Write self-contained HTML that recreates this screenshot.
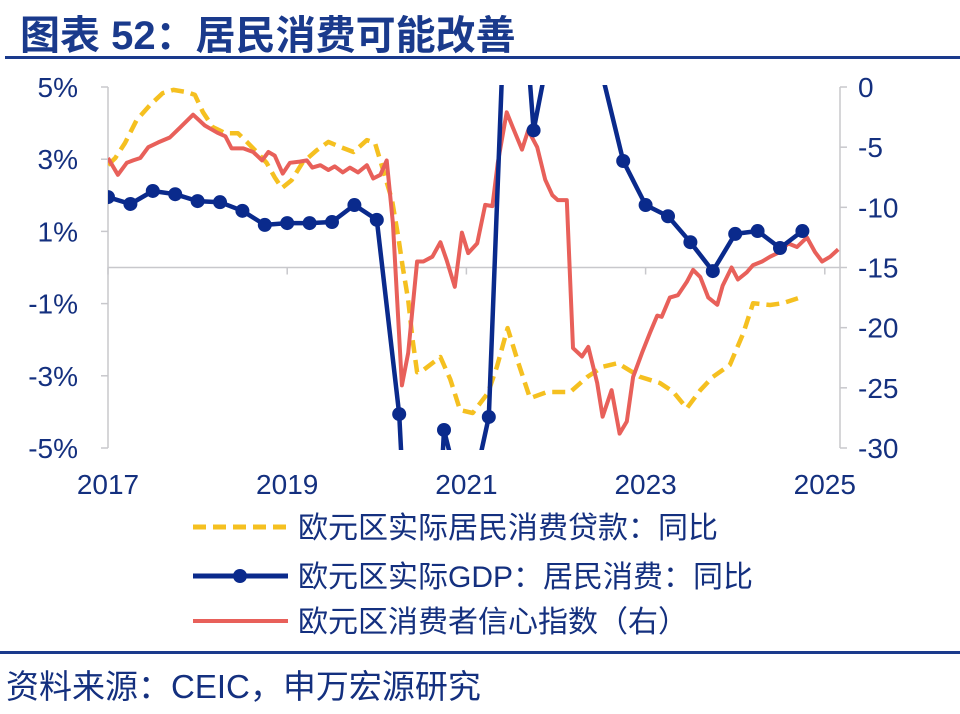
<!DOCTYPE html>
<html><head><meta charset="utf-8"><style>
html,body{margin:0;padding:0;background:#fff;width:960px;height:714px;overflow:hidden;font-family:"Liberation Sans","Noto Sans CJK SC",sans-serif;color:#14307f}
body{position:fixed;top:0;left:0}
svg{display:block}
</style></head><body>
<svg width="960" height="714" xmlns="http://www.w3.org/2000/svg">
<text x="20" y="49" font-size="40" font-weight="bold" fill="#1a3a8c" font-family="Liberation Sans, Noto Sans CJK SC, sans-serif">图表 52：居民消费可能改善</text>
<rect x="5" y="56" width="955" height="3" fill="#1a3a8c"/>
<g id="axes"></g>
<defs><clipPath id="plotclip"><rect x="108" y="85" width="732" height="365"/></clipPath></defs>
<g id="series" clip-path="url(#plotclip)"></g>
<g font-size="30" fill="#14307f" font-family="Liberation Sans, Noto Sans CJK SC, sans-serif">
<line x1="193" y1="527" x2="288" y2="527" stroke="#f5c020" stroke-width="5" stroke-dasharray="13,7"/>
<text x="298" y="538">欧元区实际居民消费贷款：同比</text>
<line x1="193" y1="576" x2="288" y2="576" stroke="#0a2a8c" stroke-width="5"/>
<circle cx="240" cy="576" r="7" fill="#0a2a8c"/>
<text x="298" y="587">欧元区实际GDP：居民消费：同比</text>
<line x1="193" y1="621" x2="288" y2="621" stroke="#e8605a" stroke-width="4"/>
<text x="298" y="632">欧元区消费者信心指数（右）</text>
</g>
<rect x="0" y="651" width="960" height="3" fill="#1a3a8c"/>
<text x="6" y="698" font-size="33" fill="#14307f" font-family="Liberation Sans, Noto Sans CJK SC, sans-serif">资料来源：CEIC，申万宏源研究</text>
</svg>
<script>
const xTickLabels=["2017","2019","2021","2023","2025"];
const xTickYears=[0,2,4,6,8];
const leftTicks=[5,3,1,-1,-3,-5];
const rightTicks=[0,-5,-10,-15,-20,-25,-30];
const gdpValues=[1.95,1.76,2.12,2.03,1.84,1.81,1.57,1.18,1.23,1.23,1.26,1.73,1.32,-4.06,-16,-4.5,-7,-4.14,12,3.8,7,8,5.5,2.95,1.73,1.42,0.7,-0.1,0.93,1.01,0.54,1.01];
const loanYears=[0,0.08,0.19,0.32,0.47,0.61,0.73,0.88,0.97,1.06,1.17,1.31,1.45,1.55,1.66,1.77,1.86,1.94,2.05,2.17,2.33,2.46,2.59,2.74,2.89,2.98,3.07,3.17,3.24,3.29,3.35,3.40,3.45,3.52,3.71,3.82,3.93,4.07,4.24,4.34,4.46,4.58,4.71,4.90,5.16,5.35,5.52,5.69,5.94,6.16,6.31,6.46,6.61,6.75,6.94,7.09,7.20,7.39,7.53,7.70];
const loanValues=[2.84,3.03,3.45,4.09,4.5,4.83,4.92,4.86,4.78,4.3,3.89,3.72,3.72,3.48,3.2,2.9,2.5,2.2,2.42,2.9,3.25,3.48,3.34,3.2,3.53,3.45,2.7,1.87,0.84,0,-0.9,-2.0,-2.9,-2.84,-2.48,-3.1,-3.95,-4.03,-3.48,-2.75,-1.68,-2.65,-3.62,-3.45,-3.45,-3.03,-2.75,-2.65,-3.03,-3.2,-3.45,-3.9,-3.4,-3.03,-2.7,-1.82,-0.99,-1.04,-0.99,-0.85];
const confYears=[0,0.11,0.21,0.28,0.36,0.45,0.56,0.69,0.80,0.95,1.08,1.22,1.31,1.38,1.51,1.62,1.72,1.79,1.86,1.95,2.03,2.14,2.22,2.28,2.37,2.46,2.53,2.62,2.70,2.79,2.89,2.96,3.04,3.11,3.18,3.28,3.35,3.45,3.52,3.62,3.71,3.78,3.87,3.95,4.02,4.12,4.21,4.29,4.35,4.45,4.52,4.62,4.69,4.79,4.88,4.96,5.02,5.12,5.19,5.29,5.36,5.46,5.52,5.62,5.71,5.79,5.86,5.96,6.05,6.13,6.18,6.27,6.36,6.46,6.53,6.61,6.70,6.80,6.86,6.96,7.03,7.13,7.20,7.30,7.39,7.50,7.59,7.69,7.80,7.89,7.97,8.06,8.15];
const confValues=[-5.9,-7.3,-6.3,-6.1,-5.9,-5.0,-4.6,-4.2,-3.4,-2.3,-3.2,-3.8,-4.1,-5.1,-5.1,-5.4,-6.1,-5.4,-5.7,-7.2,-6.3,-6.2,-6.1,-6.7,-6.5,-6.9,-6.6,-7.1,-6.7,-7.1,-6.5,-7.6,-7.3,-6.1,-11.3,-24.8,-22.1,-14.5,-14.5,-14.1,-12.9,-14.4,-16.6,-12.1,-13.8,-13.0,-9.8,-9.9,-6.3,-2.1,-3.4,-5.2,-3.6,-5.0,-7.7,-9.0,-9.4,-9.4,-21.7,-22.4,-21.6,-24.6,-27.4,-25.2,-28.8,-27.8,-24.1,-22.1,-20.4,-19.0,-19.1,-17.5,-17.3,-16.2,-15.2,-15.8,-17.5,-18.1,-16.5,-15.0,-16.0,-15.4,-14.8,-14.5,-14.1,-13.7,-13.0,-13.3,-12.5,-13.7,-14.5,-14.1,-13.5];

const NS="http://www.w3.org/2000/svg";
const X0=108,PXY=89.6,YTOP=84,YBOT=451;
const xs=t=>X0+t*PXY;
const yl=v=>267.5-v*36.1;
const yr=v=>87-v*(361/30);
function mk(tag,attrs,parent){const e=document.createElementNS(NS,tag);for(const k in attrs)e.setAttribute(k,attrs[k]);parent.appendChild(e);return e;}
// clip a polyline to the vertical plot range, returning path data
function clipPath(pts){
  let d='',pen=false;
  for(let i=0;i<pts.length-1;i++){
    let [x1,y1]=pts[i],[x2,y2]=pts[i+1];
    const inside=y=>y>=YTOP&&y<=YBOT;
    let ax=x1,ay=y1,bx=x2,by=y2;
    const interp=yy=>x1+(x2-x1)*(yy-y1)/(y2-y1);
    if(!inside(ay)){const yy=ay<YTOP?YTOP:YBOT;if((by-yy)*(ay-yy)>0){pen=false;continue;}ax=interp(yy);ay=yy;}
    if(!inside(by)){const yy=by<YTOP?YTOP:YBOT;bx=interp(yy);by=yy;}
    if(!pen||!inside(y1)){d+='M'+ax.toFixed(1)+','+ay.toFixed(1);}
    d+='L'+bx.toFixed(1)+','+by.toFixed(1);
    pen=inside(y2);
  }
  return d;
}
const axes=document.getElementById('axes'),ser=document.getElementById('series');
const gray="#c8c8cc";
let e;
e=mk('line',{x1:X0,y1:87,x2:X0,y2:448,stroke:gray,'stroke-width':1.5},axes);


e=mk('line',{x1:840,y1:87,x2:840,y2:448,stroke:gray,'stroke-width':1.5},axes);


e=mk('line',{x1:X0,y1:yl(0),x2:840,y2:yl(0),stroke:gray,'stroke-width':1.5},axes);


leftTicks.forEach(v=>{
 mk('line',{x1:X0-7,y1:yl(v),x2:X0,y2:yl(v),stroke:gray,'stroke-width':1.5},axes);
 e=mk('text',{x:78,y:yl(v)+10,'text-anchor':'end','font-size':28,fill:'#14307f'},axes);
 e.textContent=v+'%';
 
 
});
rightTicks.forEach(v=>{
 mk('line',{x1:840,y1:yr(v),x2:847,y2:yr(v),stroke:gray,'stroke-width':1.5},axes);
 e=mk('text',{x:858,y:yr(v)+10,'font-size':28,fill:'#14307f'},axes);
 e.textContent=String(v);
 
 
});
xTickYears.forEach((t,i)=>{
 mk('line',{x1:xs(t),y1:yl(0),x2:xs(t),y2:yl(0)+7,stroke:gray,'stroke-width':1.5},axes);
 e=mk('text',{x:xs(t),y:494,'text-anchor':'middle','font-size':28,fill:'#14307f'},axes);
 e.textContent=xTickLabels[i];
 
 
});
let d=clipPath(loanYears.map((t,i)=>[xs(t),yl(loanValues[i])]));
e=mk('path',{d:d,fill:'none',stroke:'#f5c020','stroke-width':4.5,'stroke-dasharray':'13,7','stroke-linejoin':'round'},ser);


d=clipPath(confYears.map((t,i)=>[xs(t),yr(confValues[i])]));
e=mk('path',{d:d,fill:'none',stroke:'#e8605a','stroke-width':4,'stroke-linejoin':'round'},ser);


d=clipPath(gdpValues.map((v,i)=>[xs(i*0.25),yl(v)]));
e=mk('path',{d:d,fill:'none',stroke:'#0a2a8c','stroke-width':4.5,'stroke-linejoin':'round'},ser);


gdpValues.forEach((v,i)=>{
 const cy=yl(v);
 if(cy<YTOP||cy>YBOT)return;
 const c=mk('circle',{cx:xs(i*0.25),cy:cy,r:7,fill:'#0a2a8c'},ser);
 
 
});
</script>
</body></html>
